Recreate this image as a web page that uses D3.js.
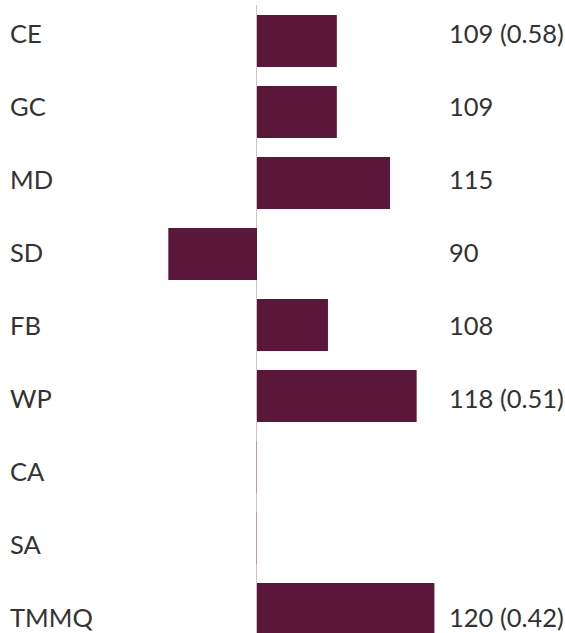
<!DOCTYPE html>
<html>
<head>
<meta charset="utf-8">
<script src="https://cdn.jsdelivr.net/npm/d3@7"></script>
<style>
  body { margin: 0; background: #fff; }
  svg { display: block; }
</style>
</head>
<body>
<svg id="svg"></svg>
<script>
// index values, 100 = average; null where there's no figure
const categories = ["CE", "GC", "MD", "SD", "FB", "WP", "CA", "SA", "TMMQ"];
const values = [109, 109, 115, 90, 108, 118, null, null, 120];
const valueLabels = ["109 (0.58)", "109", "115", "90", "108", "118 (0.51)", "", "", "120 (0.42)"];
const baseline = 100;

window.addEventListener('load', function() {
    const W = 565, H = 633;
    const svg = d3.select("#svg")
        .attr("width", W)
        .attr("height", H)
        .attr("font-family", "Lato, sans-serif")
        .attr("font-size", 25.5);

    const x = d3.scaleLinear()
        .domain([90, 120])
        .range([168.3, 434.4]);

    // bars and labels sit on slightly different grids
    const yBar = d3.scaleBand()
        .domain(categories)
        .range([15, 15 + 71 * 8 + 52])
        .paddingInner(19 / 71)
        .paddingOuter(0);

    const yText = d3.scaleBand()
        .domain(categories)
        .range([6, 6 + 73.1 * 9]);

    const data = categories.map((c, i) => ({cat: c, value: values[i], label: valueLabels[i]}));

    // baseline
    svg.append("line")
        .attr("x1", x(baseline) - 0.5).attr("x2", x(baseline) - 0.5)
        .attr("y1", 5).attr("y2", H)
        .attr("stroke", "#d7bfca")
        .attr("stroke-width", 1);

    svg.selectAll("rect.bar")
        .data(data)
        .enter()
        .append("rect")
        .attr("class", "bar")
        .attr("x", d => x(Math.min(d.value ?? baseline, baseline)))
        .attr("y", d => yBar(d.cat))
        .attr("width", d => d.value == null ? 0.6 : Math.abs(x(d.value) - x(baseline)))
        .attr("height", yBar.bandwidth())
        .attr("fill", "#5a1739")
        .attr("fill-opacity", d => d.value == null ? 0.35 : 1)
        .attr("transform", d => d.value == null ? "translate(-0.6,0)" : null);

    svg.selectAll("text.cat")
        .data(data)
        .enter()
        .append("text")
        .attr("class", "cat")
        .attr("x", 10)
        .attr("y", d => yText(d.cat) + 36.5)
        .attr("fill", "#333")
        .text(d => d.cat);

    svg.selectAll("text.val")
        .data(data)
        .enter()
        .append("text")
        .attr("class", "val")
        .attr("x", 449)
        .attr("y", d => yText(d.cat) + 36.5)
        .attr("fill", "#333")
        .text(d => d.label);
});
</script>
</body>
</html>
